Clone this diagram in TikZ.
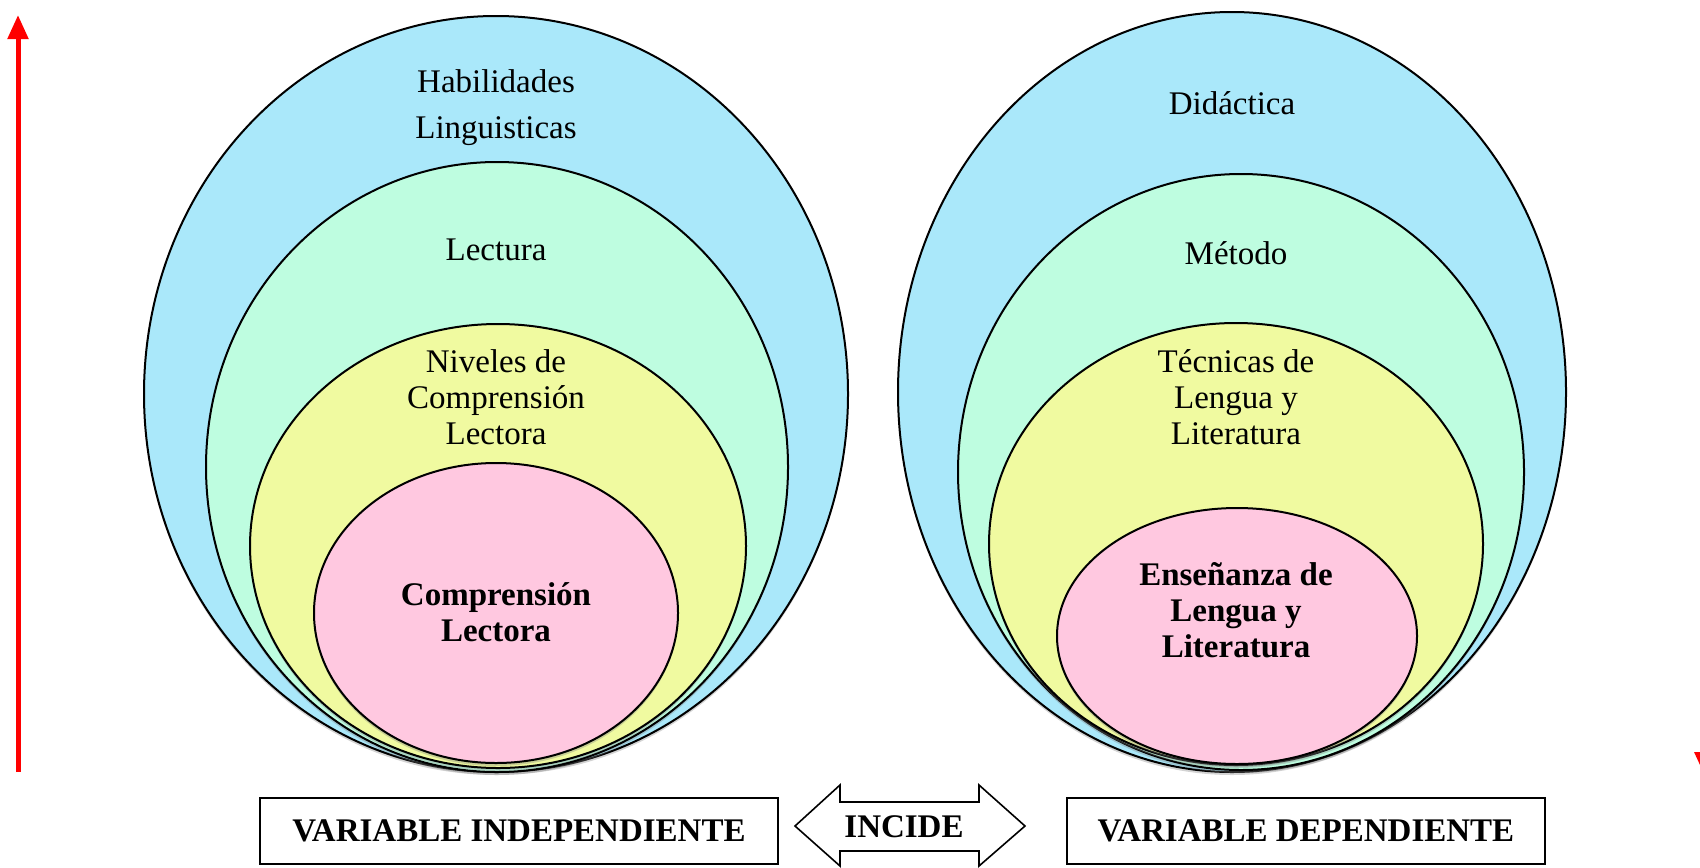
\documentclass[tikz,border=0pt]{standalone}
\usepackage{fontspec}
\setmainfont{Liberation Serif}
\usetikzlibrary{arrows.meta,shadows}
\definecolor{cblue}{RGB}{170,232,250}
\definecolor{cgreen}{RGB}{190,253,224}
\definecolor{cyellow}{RGB}{240,250,160}
\definecolor{cpink}{RGB}{255,200,224}
\definecolor{cred}{RGB}{255,0,0}
\tikzset{
  ring/.style={draw=black, line width=1pt, drop shadow={shadow xshift=0pt, shadow yshift=-1.5pt, opacity=0.35}},
  lbl/.style={align=center, inner sep=0pt, font=\fontsize{16.5pt}{18pt}\selectfont},
  blbl/.style={lbl, font=\fontsize{16.5pt}{18pt}\selectfont\bfseries},
  varbox/.style={draw=black, line width=1pt, fill=white, minimum height=33pt, inner sep=0pt, font=\fontsize{16.5pt}{18pt}\selectfont\bfseries},
  redline/.style={draw=cred, line width=2.5pt}
}
\begin{document}
\begin{tikzpicture}[x=0.5pt, y=-0.5pt]
\useasboundingbox (0,0) rectangle (1700,867);
% red axis arrow
\coordinate (rbot) at (18,772);
\coordinate (rtop) at (18,15);
\draw[redline, -{Triangle[length=12pt, width=10pt]}] (rbot) -- (rtop);
\fill[cred] (1694,752) -- (1700,752) -- (1700,765) -- cycle;
% left set of ellipses
\filldraw[ring, fill=cblue] (496,394) ellipse [x radius=176pt, y radius=189pt];
\filldraw[ring, fill=cgreen] (497,467) ellipse [x radius=145.5pt, y radius=152.5pt];
\filldraw[ring, fill=cyellow] (498,546) ellipse [x radius=124pt, y radius=111pt];
\filldraw[ring, fill=cpink] (496,613) ellipse [x radius=91pt, y radius=75pt];
\node[lbl, font=\fontsize{16.5pt}{23pt}\selectfont] (hab) at (496,108) {Habilidades\\Linguisticas};
\node[lbl] (lec) at (496,250) {Lectura};
\node[lbl] (niv) at (496,397) {Niveles de\\Comprensión\\Lectora};
\node[blbl] (comp) at (496,612) {Comprensión\\Lectora};
% right set of ellipses
\filldraw[ring, fill=cblue] (1232,392) ellipse [x radius=167pt, y radius=190pt];
\filldraw[ring, fill=cgreen] (1241,472) ellipse [x radius=141.5pt, y radius=149pt];
\filldraw[ring, fill=cyellow] (1236,544) ellipse [x radius=123.5pt, y radius=110.5pt];
\filldraw[ring, fill=cpink] (1237,636) ellipse [x radius=90pt, y radius=64pt];
\node[lbl] (did) at (1232,103) {Didáctica};
\node[lbl] (met) at (1236,253) {Método};
\node[lbl] (tec) at (1236,397) {Técnicas de\\Lengua y\\Literatura};
\node[blbl] (ens) at (1236,610) {Enseñanza de\\Lengua y\\Literatura};
% bottom boxes
\node[varbox, minimum width=259pt] (vi) at (519,831) {VARIABLE INDEPENDIENTE};
\node[varbox, minimum width=239pt] (vd) at (1306,831) {VARIABLE DEPENDIENTE};
% double arrow
\draw[line width=0.8pt, fill=white] (795,826) -- (840,785) -- (840,802) -- (979,802) -- (979,785) -- (1025,826) -- (979,866) -- (979,851) -- (840,851) -- (840,866) -- cycle;
\node[blbl] (inc) at (904,827) {INCIDE};
\end{tikzpicture}
\end{document}
